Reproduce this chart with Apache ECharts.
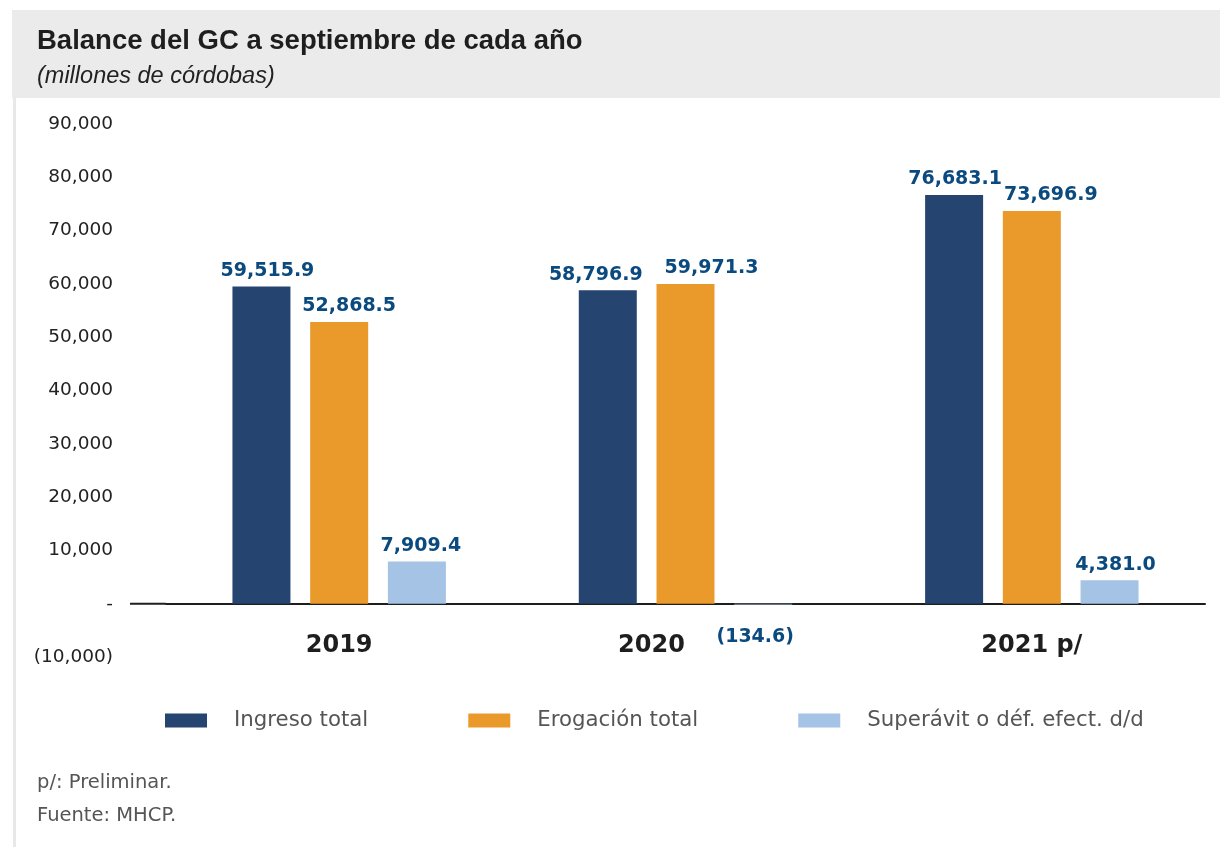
<!DOCTYPE html>
<html>
<head>
<meta charset="utf-8">
<script src="https://cdn.jsdelivr.net/npm/echarts@6/dist/echarts.min.js"></script>
<style>
  html, body { margin: 0; padding: 0; background: #fff; }
  #js_chart { width: 1220px; height: 847px; }
</style>
</head>
<body>
<div id="js_chart"></div>
<script>
// datos del grafico (millones de cordobas)
var years = ['2019', '2020', '2021 p/'];
var ingreso = [59515.9, 58796.9, 76683.1];
var erogacion = [52868.5, 59971.3, 73696.9];
var superavit = [7909.4, -134.6, 4381.0];
var seriesNames = ['Ingreso total', 'Erogación total', 'Superávit o déf. efect. d/d'];
var yMin = -10000, yMax = 90000, yStep = 10000;

// desplazamiento horizontal de cada etiqueta (serie x año), solo estilo
var labelShift = [
    [6, -12, 1],
    [10, 26, 19],
    [4, -8, 6]
];

function fmtNum(v, dec) {
    var s = Math.abs(v).toLocaleString('en-US', {minimumFractionDigits: dec, maximumFractionDigits: dec});
    return v < 0 ? '(' + s + ')' : s;
}

var labelStyle = {
    show: true,
    position: 'top',
    distance: 6,
    color: '#0b4a7f',
    fontFamily: 'DejaVu Sans',
    fontWeight: 'bold',
    fontSize: 19,
    formatter: function (p) { return fmtNum(p.value, 1); }
};

function barData(arr, s) {
    return arr.map(function (v, i) {
        var lab = {offset: [labelShift[s][i], 0]};
        if (v < 0) {
            lab.position = 'bottom';
            lab.distance = 23;
        }
        return {value: v, label: lab};
    });
}

var chart = echarts.init(document.getElementById('js_chart'));
var option = {
    animation: false,
    color: ['#25446f', '#ea9a2b', '#a5c3e5'],
    title: [
        {
            text: 'Balance del GC a septiembre de cada año',
            left: 37, top: 27, padding: 0,
            textStyle: {fontFamily: 'Liberation Sans', fontWeight: 'bold', fontSize: 27.5, color: '#1e1e1e'}
        },
        {
            text: '(millones de córdobas)',
            left: 37, top: 65, padding: 0,
            textStyle: {fontFamily: 'Liberation Sans', fontStyle: 'italic', fontWeight: 'normal', fontSize: 23.5, color: '#222'}
        }
    ],
    legend: {
        left: 165,
        top: 710,
        padding: 0,
        itemWidth: 42,
        itemHeight: 14,
        itemGap: 100,
        icon: 'rect',
        data: seriesNames,
        textStyle: {
            fontFamily: 'DejaVu Sans',
            fontSize: 21.3,
            color: '#555',
            padding: [0, 0, 0, 22]
        }
    },
    grid: {left: 166, right: 15, top: 124, bottom: 190, containLabel: false},
    xAxis: {
        type: 'category',
        data: years.map(function (y, i) {
            // la etiqueta 2020 va corrida a la izquierda
            if (i === 1) return {value: y, textStyle: {padding: [0, 68, 0, 0]}};
            return y;
        }),
        axisLine: {onZero: true, lineStyle: {color: '#1e1e1e', width: 2}},
        axisTick: {show: false},
        axisLabel: {
            margin: -23,
            color: '#1e1e1e',
            fontFamily: 'DejaVu Sans',
            fontWeight: 'bold',
            fontSize: 24
        }
    },
    yAxis: {
        type: 'value',
        min: yMin,
        max: yMax,
        interval: yStep,
        axisLine: {show: false},
        axisTick: {show: false},
        splitLine: {show: false},
        axisLabel: {
            margin: 53,
            color: '#222',
            fontFamily: 'DejaVu Sans',
            fontSize: 18.5,
            formatter: function (v) { return v === 0 ? '-' : fmtNum(v, 0); }
        }
    },
    series: [
        {name: seriesNames[0], type: 'bar', barWidth: 58, barGap: '34%', data: barData(ingreso, 0), label: labelStyle},
        {name: seriesNames[1], type: 'bar', barWidth: 58, barGap: '34%', data: barData(erogacion, 1), label: labelStyle},
        {name: seriesNames[2], type: 'bar', barWidth: 58, barGap: '34%', data: barData(superavit, 2), label: labelStyle}
    ]
};
chart.setOption(option);

// fondo de la cabecera, borde izquierdo, prolongacion del eje y notas
var zeroY = chart.convertToPixel({yAxisIndex: 0}, 0);
var gridLeft = chart.convertToPixel({xAxisIndex: 0}, 0) - 1040 / 6;
chart.setOption({
    graphic: [
        {type: 'rect', z: -10, shape: {x: 12, y: 10, width: 1208, height: 88}, style: {fill: '#ebebeb'}},
        {type: 'rect', z: -10, shape: {x: 13, y: 98, width: 3, height: 749}, style: {fill: '#e8e8e8'}},
        {type: 'line', shape: {x1: 130, y1: zeroY, x2: gridLeft, y2: zeroY}, style: {stroke: '#1e1e1e', lineWidth: 2}},
        {type: 'text', left: 37, top: 773, style: {text: 'p/: Preliminar.', font: '19.5px "DejaVu Sans"', fill: '#555'}},
        {type: 'text', left: 37, top: 806, style: {text: 'Fuente: MHCP.', font: '19.5px "DejaVu Sans"', fill: '#555'}}
    ]
});

window.addEventListener('resize', function () {
    chart.resize();
});
</script>
</body>
</html>
